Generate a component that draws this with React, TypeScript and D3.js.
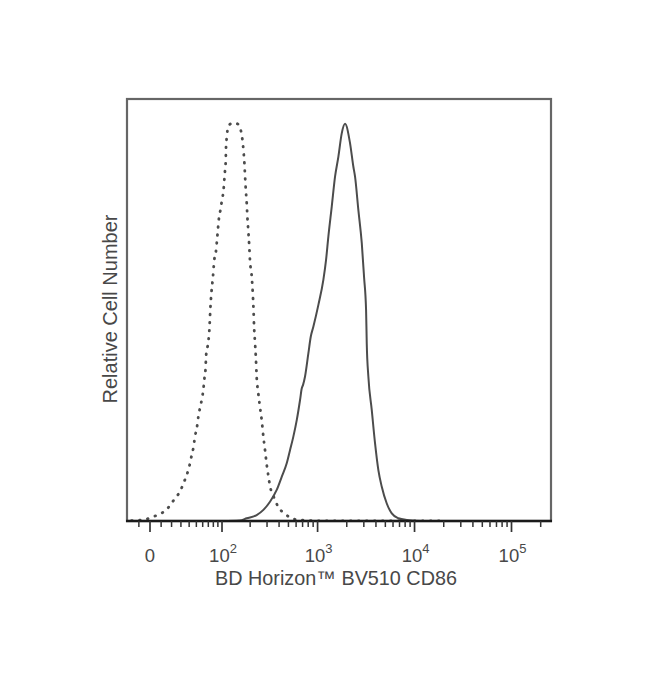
import React from "react";
import * as d3 from "d3";

// Isotype control (dotted) – fluorescence intensity and relative count (% of max)
const isoIntensity = [-25, -6, 3, 9, 15, 20, 25, 29, 33, 37, 40, 43, 46, 48, 51, 53, 56, 59, 61, 63, 65, 66, 70, 72, 74, 76, 79, 82, 86, 88, 90, 92, 96, 100, 104, 106, 108, 110, 110.4, 112, 115, 122, 135, 149, 163, 170, 174, 177, 180, 184, 187, 191, 196, 199, 208, 214, 217, 220, 225, 230, 234, 243, 254, 264, 275, 286, 298, 310, 322, 349, 393, 461, 562, 836, 1500, 3000, 20000];
const isoCount = [0, 0.3, 1.1, 1.8, 2.8, 4.5, 6.1, 7.4, 9.5, 11.6, 13.6, 16.2, 18.7, 21.2, 23.7, 26.2, 28.7, 30.9, 32.9, 35.9, 38.4, 41.7, 45.0, 48.0, 53.5, 57.3, 61.1, 65.6, 68.1, 70.6, 73.1, 75.6, 78.1, 80.7, 83.2, 85.7, 88.2, 90.7, 93.2, 95.7, 98.2, 99.7, 100, 99.7, 97.0, 93.2, 89.9, 86.4, 83.2, 79.9, 76.4, 73.1, 68.8, 65.6, 61.3, 56.3, 53.0, 48.7, 44.7, 40.5, 36.2, 32.2, 28.4, 25.4, 21.1, 17.8, 14.1, 11.3, 8.8, 6.3, 3.5, 1.8, 0.5, 0.1, 0, 0, 0];

// BV510 CD86 stained (solid)
const cd86Intensity = [100, 156, 184, 234, 275, 322, 378, 426, 480, 519, 562, 610, 659, 686, 708, 742, 803, 850, 904, 1019, 1147, 1223, 1291, 1400, 1514, 1638, 1775, 1920, 2163, 2340, 2435, 2635, 2857, 3016, 3164, 3215, 3340, 3620, 3916, 4236, 4593, 5172, 5825, 6818, 8312, 12000, 40000];
const cd86Count = [0, 0.13, 0.68, 1.5, 2.8, 4.85, 7.8, 11.1, 14.5, 17.8, 21.2, 25.4, 30.4, 33.3, 34.2, 36.3, 42.1, 46.3, 48.8, 54.3, 60.6, 65.6, 71.4, 79.0, 86.5, 91.5, 97.4, 99.8, 94.9, 89.0, 86.5, 78.1, 69.8, 61.3, 53.0, 44.6, 36.3, 27.9, 19.5, 12.8, 8.6, 4.4, 1.9, 0.68, 0.25, 0, 0];

const majorTicks = [0, 100, 1000, 10000, 100000];
const majorLabels = [
  { base: "0", exp: "" },
  { base: "10", exp: "2" },
  { base: "10", exp: "3" },
  { base: "10", exp: "4" },
  { base: "10", exp: "5" },
];
const minorTicks = [
  -10, 10, 20, 30, 40, 50, 60, 70, 80, 90,
  200, 300, 400, 500, 600, 700, 800, 900,
  2000, 3000, 4000, 5000, 6000, 7000, 8000, 9000,
  20000, 30000, 40000, 50000, 60000, 70000, 80000, 90000,
  200000,
];

const xTitle = "BD Horizon™ BV510 CD86";
const yTitle = "Relative Cell Number";

const W = 650;
const H = 683;
const FRAME = { left: 127, top: 99, right: 551, bottom: 521 };
const WIDTH_BASIS = 37.4;
const T = (v: number) => Math.asinh(v / WIDTH_BASIS);

export default function App() {
  const xLin = d3.scaleLinear().domain([0, T(100000)]).range([150, 511.5]);
  const x = (v: number) => xLin(T(v));
  const y = d3.scaleLinear().domain([0, 100]).range([FRAME.bottom, 123]);

  const line = d3
    .line<[number, number]>()
    .x((d) => x(d[0]))
    .y((d) => y(d[1]))
    .curve(d3.curveMonotoneX);

  const isoData: [number, number][] = isoIntensity.map((v, i) => [v, isoCount[i]]);
  const cd86Data: [number, number][] = cd86Intensity.map((v, i) => [v, cd86Count[i]]);

  const font = "'Liberation Sans', Arial, sans-serif";
  const textColor = "#484848";

  return (
    <svg
      width={W}
      height={H}
      style={{ position: "absolute", left: 0, top: 0, background: "#fff" }}
    >
      <defs>
        <clipPath id="plotClip">
          <rect
            x={FRAME.left}
            y={FRAME.top}
            width={FRAME.right - FRAME.left}
            height={FRAME.bottom - FRAME.top + 1}
          />
        </clipPath>
      </defs>
      <rect
        x={FRAME.left}
        y={FRAME.top}
        width={FRAME.right - FRAME.left}
        height={FRAME.bottom - FRAME.top}
        fill="none"
        stroke="#666"
        strokeWidth={2.2}
      />
      <g clipPath="url(#plotClip)">
        <path
          d={line(cd86Data) || ""}
          fill="none"
          stroke="#4c4c4c"
          strokeWidth={2}
          strokeLinejoin="round"
        />
        <path
          d={line(isoData) || ""}
          fill="none"
          stroke="#4c4c4c"
          strokeWidth={2.8}
          strokeDasharray="0.6 7.4"
          strokeLinecap="round"
        />
      </g>
      <line
        x1={FRAME.left - 1}
        x2={FRAME.right + 1}
        y1={FRAME.bottom}
        y2={FRAME.bottom}
        stroke="#1a1a1a"
        strokeWidth={2.4}
      />
      {minorTicks.map((t) => (
        <line
          key={"mi" + t}
          x1={x(t)}
          x2={x(t)}
          y1={FRAME.bottom}
          y2={FRAME.bottom + 6}
          stroke="#333"
          strokeWidth={1.5}
        />
      ))}
      {majorTicks.map((t) => (
        <line
          key={"ma" + t}
          x1={x(t)}
          x2={x(t)}
          y1={FRAME.bottom}
          y2={FRAME.bottom + 11}
          stroke="#333"
          strokeWidth={1.7}
        />
      ))}
      {majorTicks.map((t, i) => (
        <text
          key={"lb" + t}
          x={x(t) + (majorLabels[i].exp ? 1 : 0)}
          y={562}
          textAnchor="middle"
          fontFamily={font}
          fontSize={18.5}
          fill={textColor}
        >
          {majorLabels[i].base}
          {majorLabels[i].exp ? (
            <tspan fontSize={13} dy={-9}>
              {majorLabels[i].exp}
            </tspan>
          ) : null}
        </text>
      ))}
      <text
        x={336}
        y={585}
        textAnchor="middle"
        fontFamily={font}
        fontSize={19.8}
        fill={textColor}
      >
        {xTitle}
      </text>
      <text
        transform={`translate(117, ${(FRAME.top + FRAME.bottom) / 2 - 1}) rotate(-90)`}
        textAnchor="middle"
        fontFamily={font}
        fontSize={20}
        fill={textColor}
      >
        {yTitle}
      </text>
    </svg>
  );
}
